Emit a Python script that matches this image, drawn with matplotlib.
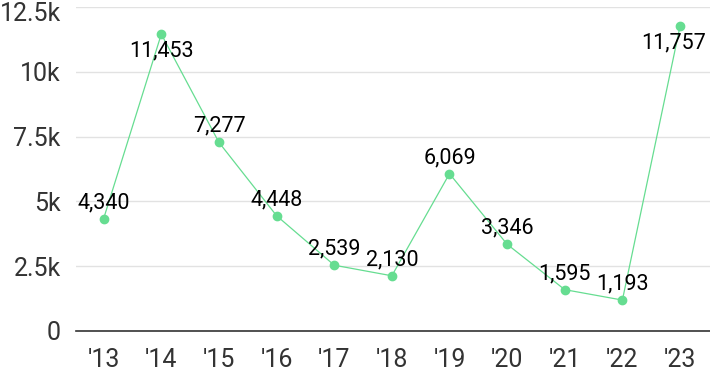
import matplotlib
matplotlib.use("Agg")
import matplotlib.pyplot as plt
import matplotlib.transforms as mtransforms

years = ["'13", "'14", "'15", "'16", "'17", "'18", "'19", "'20", "'21", "'22", "'23"]
counts = [4340, 11453, 7277, 4448, 2539, 2130, 6069, 3346, 1595, 1193, 11757]
y_ticks = [0, 2500, 5000, 7500, 10000, 12500]
y_tick_labels = ["0", "2.5k", "5k", "7.5k", "10k", "12.5k"]

GREEN = "#66dd91"

plt.rcParams["font.family"] = ["Roboto", "DejaVu Sans"]

fig = plt.figure(figsize=(7.10, 3.71), dpi=100)
ax = fig.add_axes([76 / 710, 40 / 371, 634 / 710, 324 / 371])

x = list(range(len(years)))
ax.plot(x, counts, color=GREEN, lw=0.9, marker="o", markersize=6, zorder=3)

for xi, v in zip(x, counts):
    # labels that would run off the top go under the point
    dy = -12 if v > 11000 else 11.5
    # keep the last label inside the figure
    dx = -5 if xi == len(years) - 1 else 0
    ax.annotate(f"{v:,}", (xi, v), xytext=(dx, dy), textcoords="offset points",
                ha="center", va="center", fontsize=15.5, color="black", zorder=4)

ax.set_xlim(-0.48, 10.52)
ax.set_ylim(0, 12500)
ax.set_xticks(x)
ax.set_xticklabels(years)
ax.set_yticks(y_ticks)
ax.set_yticklabels(y_tick_labels)

ax.grid(axis="y", color="#e2e2e2", lw=1)
ax.set_axisbelow(True)
for s in ["top", "right", "left"]:
    ax.spines[s].set_visible(False)
ax.spines["bottom"].set_color("#333333")
ax.spines["bottom"].set_linewidth(1.2)
ax.tick_params(length=0, labelsize=18, colors="#333333")
ax.tick_params(axis="x", pad=12)
ax.tick_params(axis="y", pad=11)

# nudge the top tick label down so it stays in the figure
top = ax.get_yticklabels()[-1]
top.set_transform(top.get_transform() + mtransforms.ScaledTranslation(0, -3 / 72, fig.dpi_scale_trans))

fig.savefig("out.png", dpi=100)
